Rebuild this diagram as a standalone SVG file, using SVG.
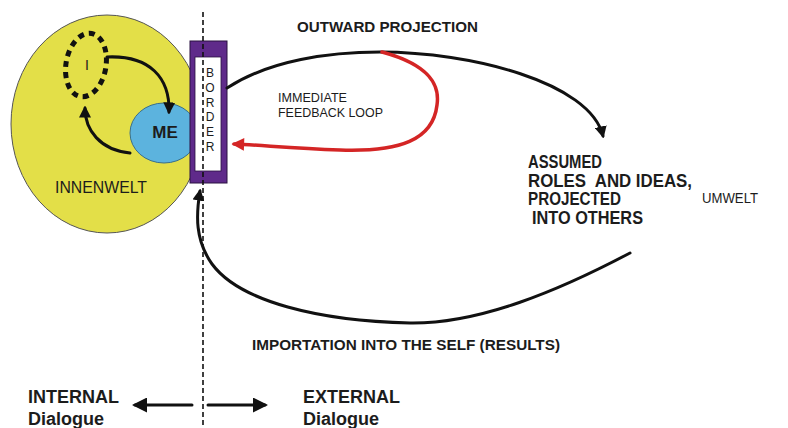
<svg xmlns="http://www.w3.org/2000/svg" width="788" height="428" viewBox="0 0 788 428">
<style>
.lbl{font-family:"Liberation Sans",Arial,sans-serif;fill:#1c1c1c}
.b{font-weight:bold}
.conn{fill:none;stroke:#111;stroke-width:3;stroke-linecap:round}
.red{fill:none;stroke:#d42525;stroke-width:3.5;stroke-linecap:round}
.dash{stroke:#111;stroke-width:1.6;stroke-dasharray:5 3}
</style>
<defs>
<marker id="ah" viewBox="0 0 10 10" refX="8" refY="5" markerWidth="4" markerHeight="4" orient="auto" markerUnits="strokeWidth">
<path d="M0,0 L10,5 L0,10 Z" fill="#111"/>
</marker>
<marker id="ahs" viewBox="0 0 10 10" refX="8" refY="5" markerWidth="6" markerHeight="5" orient="auto" markerUnits="strokeWidth">
<path d="M0,0 L10,5 L0,10 Z" fill="#111"/>
</marker>
<marker id="ahr" viewBox="0 0 10 10" refX="8" refY="5" markerWidth="4" markerHeight="3.6" orient="auto" markerUnits="strokeWidth">
<path d="M0,0 L10,5 L0,10 Z" fill="#d42525"/>
</marker>
</defs>
<rect width="788" height="428" fill="#fff"/>

<g id="innenwelt">
<ellipse cx="107" cy="124" rx="96" ry="109" fill="#e3df48" stroke="#555" stroke-width="1"/>
<text class="lbl" x="55" y="193" font-size="16" fill="#333" textLength="92" lengthAdjust="spacingAndGlyphs">INNENWELT</text>
</g>

<g id="me">
<ellipse cx="164" cy="133" rx="34" ry="30" fill="#5cb3de" stroke="#3a6f8a" stroke-width="1"/>
<text class="lbl b" x="165" y="138" font-size="17" text-anchor="middle">ME</text>
</g>

<g id="i-self">
<ellipse cx="86" cy="65" rx="20" ry="32" transform="rotate(10 86 65)" fill="none" stroke="#111" stroke-width="5" stroke-dasharray="6 5"/>
<text class="lbl" x="87" y="70" font-size="14" text-anchor="middle" fill="#111">I</text>
</g>

<g id="border">
<rect x="190" y="41" width="37" height="142" fill="#5f2a8a" stroke="#2a1040" stroke-width="1"/>
<rect x="195" y="57" width="26" height="114" fill="#fff" stroke="#2a1040" stroke-width="0.8"/>
<g class="lbl" font-size="12" text-anchor="middle">
<text x="210" y="77">B</text>
<text x="210" y="92">O</text>
<text x="210" y="107">R</text>
<text x="210" y="121">D</text>
<text x="210" y="136">E</text>
<text x="210" y="151">R</text>
</g>
</g>

<g id="divider">
<line class="dash" x1="203" y1="12" x2="203" y2="428"/>
</g>

<g id="connectors">
<path class="conn" d="M107,57 C150,55 170,78 169,112" marker-end="url(#ah)"/>
<path class="conn" d="M130,153 C100,150 85,130 85,108" marker-end="url(#ah)"/>
<path class="conn" d="M227,88 C270,60 330,52 380,52 C470,52 590,82 603,136" marker-end="url(#ah)"/>
<path class="red" d="M382,52 C430,65 440,85 437,105 C433,140 400,152 340,150 C290,148 260,145 234,144" marker-end="url(#ahr)"/>
<path class="conn" d="M630,253 C560,290 480,324 410,323 C320,321 240,302 212,264 C195,240 196,215 200,191" marker-end="url(#ah)"/>
<line class="conn" x1="192" y1="405" x2="135" y2="405" stroke-width="1.8" marker-end="url(#ahs)"/>
<line class="conn" x1="208" y1="405" x2="265" y2="405" stroke-width="1.8" marker-end="url(#ahs)"/>
</g>

<g id="labels">
<text class="lbl b" x="297" y="32" font-size="15" textLength="181" lengthAdjust="spacingAndGlyphs">OUTWARD PROJECTION</text>
<text class="lbl" x="278" y="102" font-size="13" textLength="69" lengthAdjust="spacingAndGlyphs">IMMEDIATE</text>
<text class="lbl" x="278" y="117" font-size="13" textLength="105" lengthAdjust="spacingAndGlyphs">FEEDBACK LOOP</text>
<g class="lbl b" font-size="18">
<text x="528" y="168" textLength="74" lengthAdjust="spacingAndGlyphs">ASSUMED</text>
<text x="528" y="186.5" xml:space="preserve" textLength="164" lengthAdjust="spacingAndGlyphs">ROLES  AND IDEAS,</text>
<text x="528" y="205" textLength="93" lengthAdjust="spacingAndGlyphs">PROJECTED</text>
<text x="532" y="223.5" textLength="111" lengthAdjust="spacingAndGlyphs">INTO OTHERS</text>
</g>
<text class="lbl" x="702" y="203" font-size="14" textLength="56" lengthAdjust="spacingAndGlyphs">UMWELT</text>
<text class="lbl b" x="252" y="350" font-size="15" textLength="308" lengthAdjust="spacingAndGlyphs">IMPORTATION INTO THE SELF (RESULTS)</text>
<text class="lbl b" x="28" y="403" font-size="18">INTERNAL</text>
<text class="lbl b" x="28" y="425" font-size="18">Dialogue</text>
<text class="lbl b" x="303" y="403" font-size="18">EXTERNAL</text>
<text class="lbl b" x="303" y="425" font-size="18">Dialogue</text>
</g>
</svg>
